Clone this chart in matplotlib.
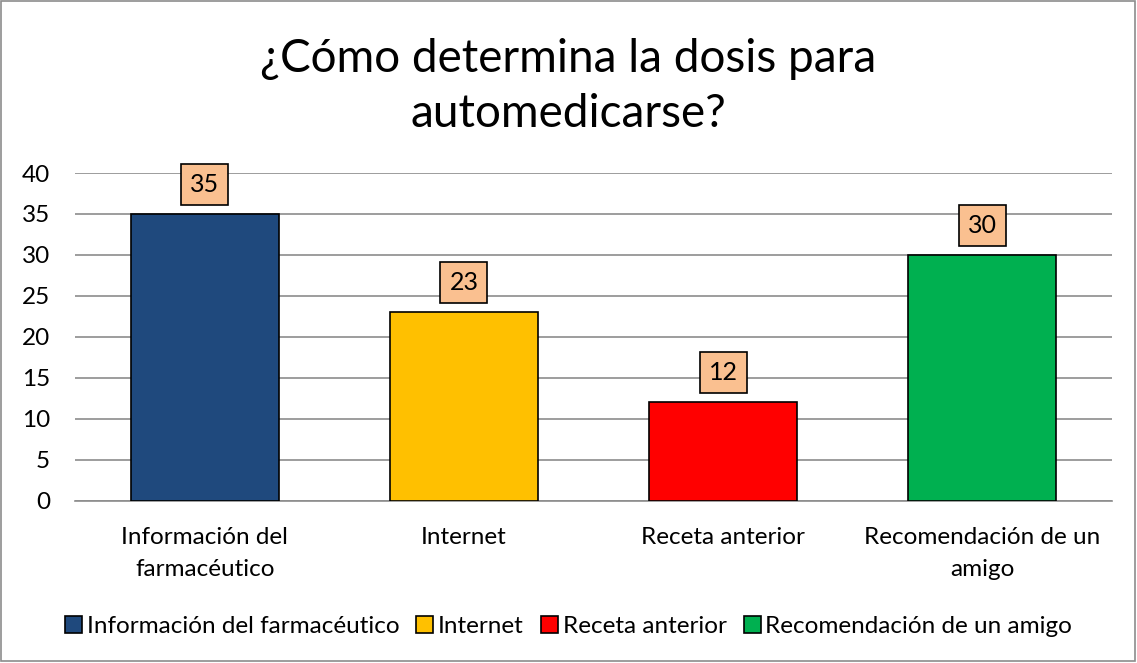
import matplotlib
matplotlib.use("Agg")
import matplotlib.pyplot as plt
from matplotlib.patches import Rectangle

# datos
categorias = ["Información del farmacéutico", "Internet", "Receta anterior",
              "Recomendación de un amigo"]
etiquetas_eje = ["Información del\nfarmacéutico", "Internet", "Receta anterior",
                 "Recomendación de un\namigo"]
valores = [35, 23, 12, 30]
colores = ["#1F497D", "#FFC000", "#FF0000", "#00B050"]
titulo = ["¿Cómo determina la dosis para", "automedicarse?"]

plt.rcParams['font.family'] = ['Lato', 'DejaVu Sans']

fig = plt.figure(figsize=(11.37, 6.63), dpi=100)
ax = fig.add_axes([0.066, 0.245, 0.912, 0.494])

x = list(range(len(valores)))
ax.bar(x, valores, width=0.57, color=colores, edgecolor="black",
       linewidth=1.2, zorder=3)

# etiquetas de datos
for xi, v in zip(x, valores):
    ax.text(xi, v + 2.2, str(v), ha="center", va="bottom", fontsize=18,
            bbox=dict(boxstyle="square,pad=0.36", facecolor="#FAC090",
                      edgecolor="black", linewidth=1.2), zorder=4)

ax.set_xlim(-0.5, 3.5)
ax.set_ylim(0, 40)
ax.set_yticks(range(0, 41, 5))
ax.tick_params(axis="y", labelsize=17.5, length=0, pad=18)
ax.set_xticks(x)
ax.set_xticklabels(etiquetas_eje, fontsize=17.5, linespacing=1.65)
ax.tick_params(axis="x", length=0, pad=19)
ax.grid(axis="y", color="#8C8C8C", linewidth=1.2, zorder=0)
for s in ["top", "right", "left"]:
    ax.spines[s].set_visible(False)
ax.spines["bottom"].set_color("#8C8C8C")
ax.spines["bottom"].set_linewidth(1.2)

# titulo en dos lineas
fig.text(0.5, 1 - 72 / 663, titulo[0], ha="center", va="baseline", fontsize=33)
fig.text(0.5, 1 - 127 / 663, titulo[1], ha="center", va="baseline", fontsize=33)

handles = [Rectangle((0, 0), 1, 1, facecolor=c, edgecolor="black", linewidth=1.2)
           for c in colores]
fig.legend(handles, categorias, loc="center", bbox_to_anchor=(0.5, 0.055),
           ncol=4, frameon=False, fontsize=17.5, handlelength=0.7,
           handleheight=0.7, handletextpad=0.2, columnspacing=0.7)

fig.patches.append(Rectangle((0.001, 0.003), 0.997, 0.995, transform=fig.transFigure,
                             fill=False, edgecolor="#8C8C8C", linewidth=1.2))

fig.savefig("out.png", dpi=100)
